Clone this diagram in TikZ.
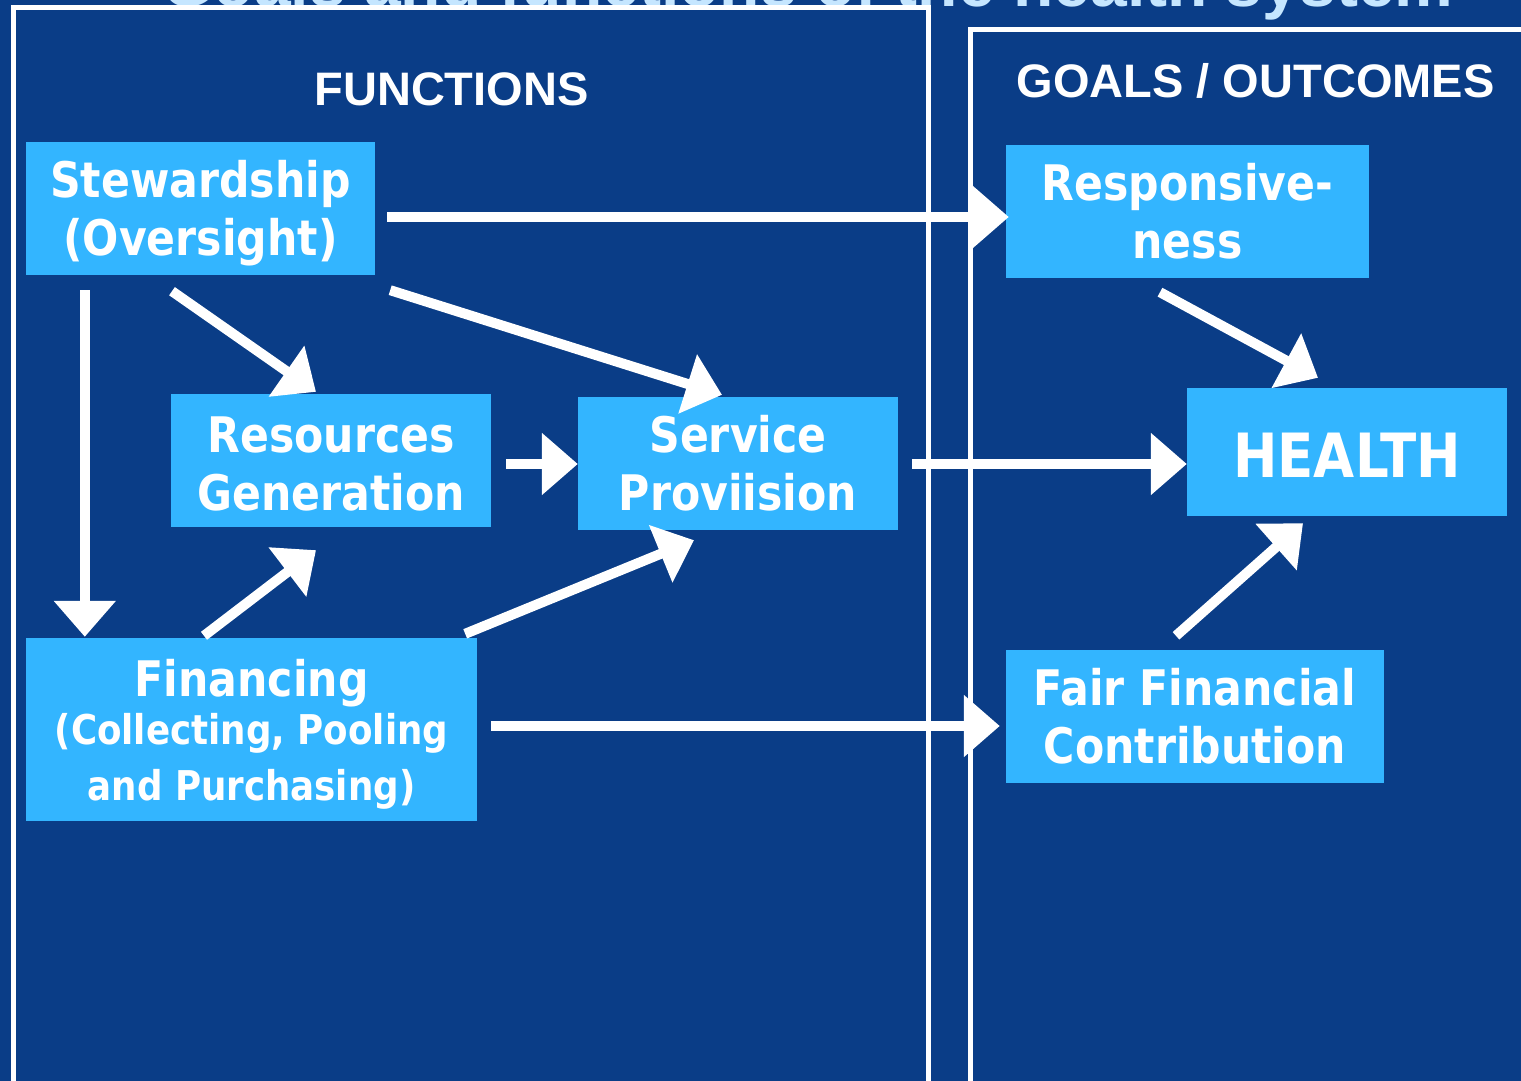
\documentclass[tikz,border=0pt]{standalone}
\usepackage{fontspec}
\usetikzlibrary{arrows.meta,calc}
\newfontfamily\boxfont[FakeStretch=0.87]{DejaVu Sans}
\newfontfamily\hdrfont{Liberation Sans}
\definecolor{bgblue}{RGB}{10,61,135}
\definecolor{boxblue}{RGB}{51,181,255}
\definecolor{titleblue}{RGB}{197,230,255}
\begin{document}
\begin{tikzpicture}[x=1pt,y=-1pt,
  fbox/.style={fill=boxblue, text=white, inner sep=0pt, align=center,
    font=\boxfont\bfseries\fontsize{49}{58}\selectfont},
  hdr/.style={text=white, inner sep=0pt, anchor=base,
    font=\hdrfont\bfseries\fontsize{47}{47}\selectfont},
  arr/.style={draw=white, line width=10pt, -{Triangle[length=36pt,width=60pt]}},
  frame/.style={draw=white, line width=5pt}]
\useasboundingbox (0,0) rectangle (1521,1081);
\clip (0,0) rectangle (1521,1081);
\fill[bgblue] (0,0) rectangle (1521,1081);
% title (cut off at top, as in the reference)
\node[anchor=base, inner sep=0pt, text=titleblue,
  font=\hdrfont\bfseries\fontsize{66}{66}\selectfont] (title) at (808,7)
  {Goals and functions of the health system};
% frames
\draw[frame] (13.5,7.5) rectangle (928.5,1110);
\draw[frame] (970.5,29.5) rectangle (1560,1110);
% headers
\node[hdr] (fhdr) at (451.5,106) {FUNCTIONS};
\node[hdr] (ghdr) at (1255.5,97) {GOALS / OUTCOMES};
% boxes
\node[fbox, minimum width=349pt, minimum height=133pt] (stew) at (200.5,208.5)
  {\rule{0pt}{47pt}Stewardship\\(Oversight)};
\node[fbox, minimum width=320pt, minimum height=133pt] (res) at (331,460.5)
  {\rule{0pt}{43pt}Resources\\Generation};
\node[fbox, minimum width=320pt, minimum height=133pt] (serv) at (738,463.5)
  {Service\\Proviision};
\node[fbox, minimum width=451pt, minimum height=183pt,
  font=\boxfont\bfseries\fontsize{41}{52}\selectfont] (fin) at (251.5,729.5)
  {{\fontsize{49}{49}\selectfont\rule{0pt}{47pt}Financing}\\[-4pt](Collecting, Pooling\\[4pt]and Purchasing)};
\node[fbox, minimum width=363pt, minimum height=133pt] (resp) at (1187.5,211.5)
  {Responsive-\\ness};
\node[fbox, minimum width=320pt, minimum height=128pt,
  font=\boxfont\bfseries\fontsize{61}{61}\selectfont] (health) at (1347,452)
  {\rule{0pt}{50pt}HEALTH};
\node[fbox, minimum width=378pt, minimum height=133pt] (fair) at (1195,716.5)
  {Fair Financial\\Contribution};
% arrows
\draw[arr] ($(stew.east)+(12,8.5)$) -- ($(resp.west)+(3,5.5)$);
\draw[arr] ($(stew.south)+(-28.5,16)$) -- ($(res.north)+(-15,-2)$);
\draw[arr] ($(stew.south east)+(15,15)$) -- ($(serv.north)+(-16,-2)$);
\draw[arr] ($(stew.south west)+(59,15)$) -- ($(fin.north west)+(59,-1)$);
\draw[arr] ($(res.east)+(15,3.5)$) -- ($(serv.west)+(0,0.5)$);
\draw[arr] ($(serv.east)+(14,0.5)$) -- ($(health.west)+(0,12)$);
\draw[arr] ($(fin.north)+(-47.5,-2)$) -- ($(res.south)+(-15,23)$);
\draw[arr] ($(fin.north east)+(-12,-4)$) -- ($(serv.south)+(-44,10)$);
\draw[arr] ($(fin.east)+(14,-3.5)$) -- ($(fair.west)+(-6,9.5)$);
\draw[arr] ($(resp.south)+(-27.5,14)$) -- ($(health.north)+(-29,-10)$);
\draw[arr] ($(fair.north)+(-19,-14)$) -- ($(health.south)+(-44,7)$);
\end{tikzpicture}
\end{document}
